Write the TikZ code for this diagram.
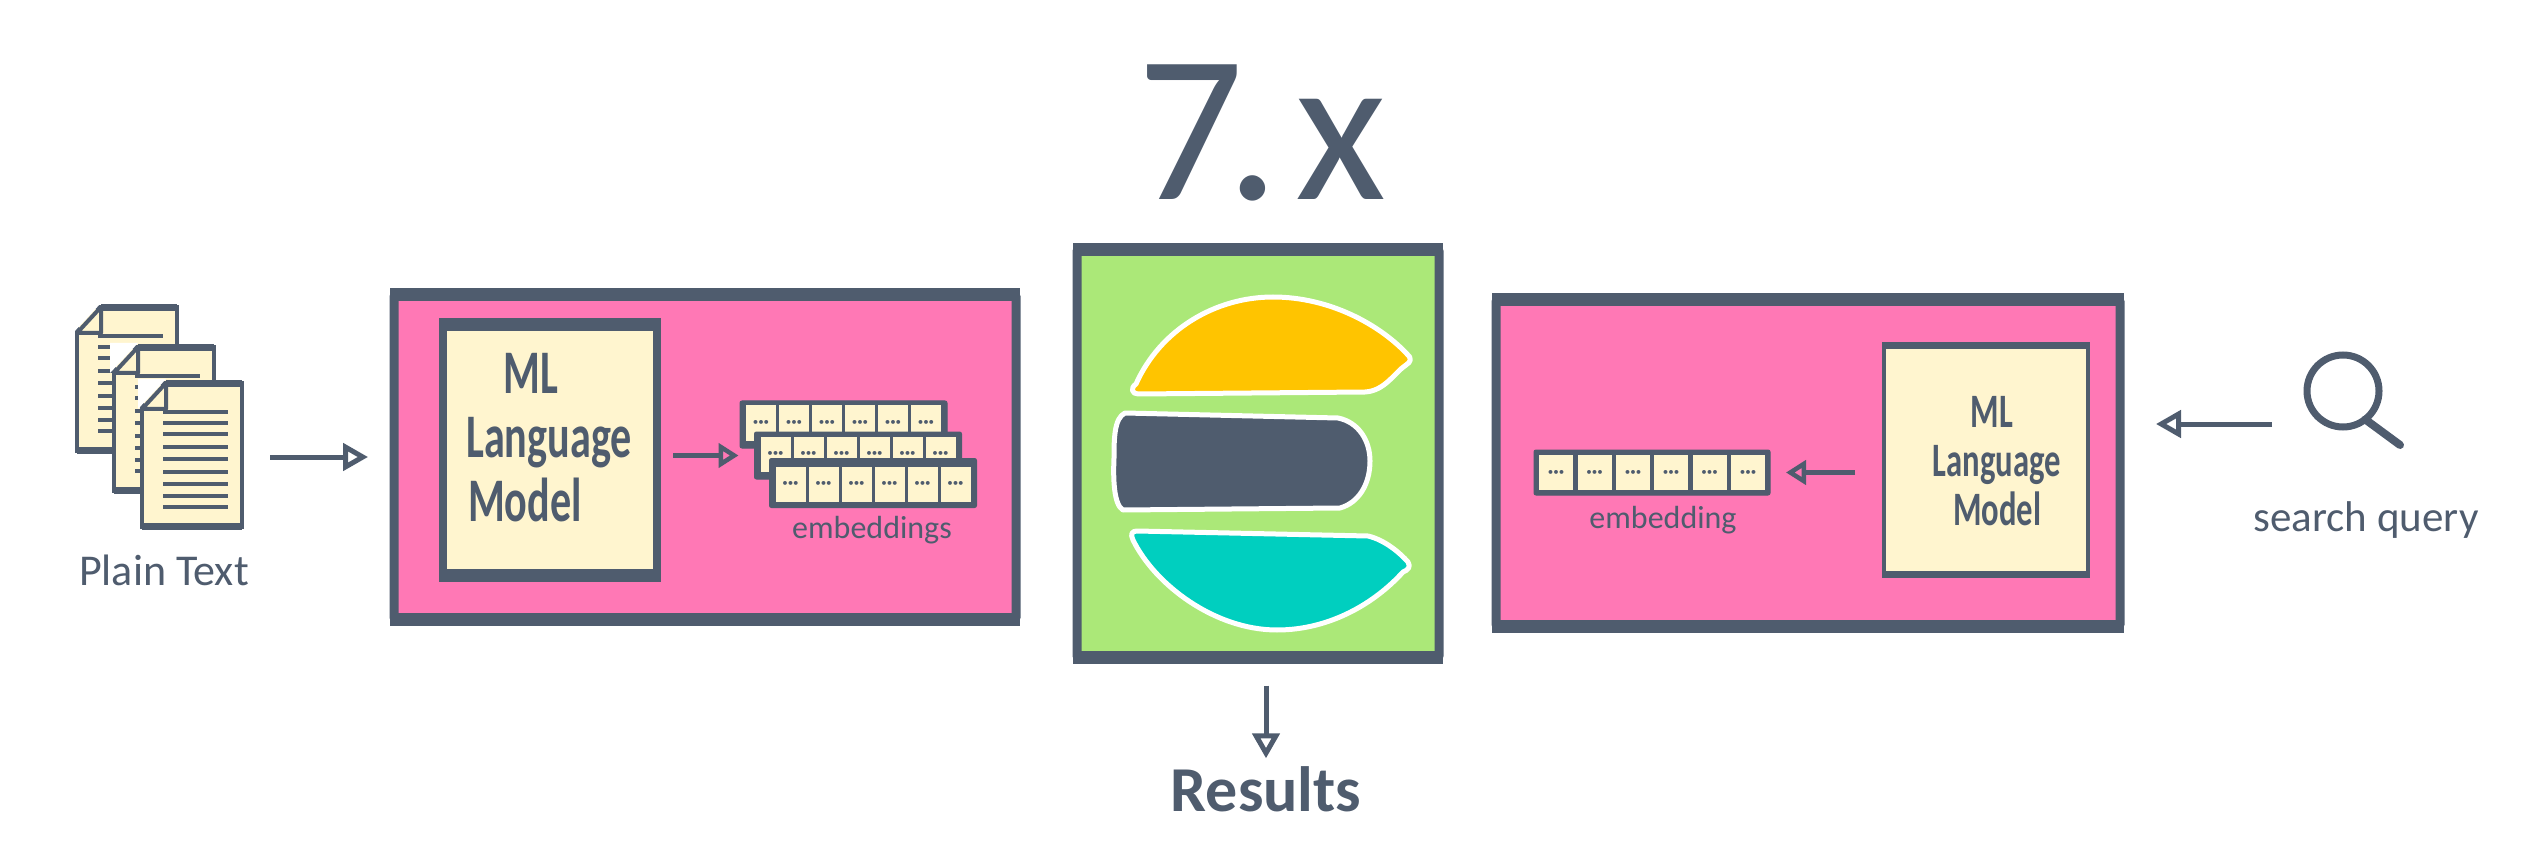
\documentclass[tikz,border=0pt]{standalone}
\usepackage{fontspec}
\usepackage{tikz}
\usetikzlibrary{arrows.meta}
\setmainfont{Carlito}
\newfontfamily\narrowhand[FakeStretch=0.68]{Carlito}
\definecolor{slate}{rgb}{0.31, 0.36, 0.43}
\definecolor{hotpink}{rgb}{1.0, 0.47, 0.71}
\definecolor{paper}{rgb}{1.0, 0.96, 0.81}
\definecolor{leaf}{rgb}{0.67, 0.91, 0.47}
\definecolor{bunyellow}{rgb}{1.0, 0.77, 0.0}
\definecolor{bunteal}{rgb}{0.0, 0.81, 0.75}

\begin{document}
\begin{tikzpicture}[x=1pt,y=-1pt]
  \tikzset{PanelStyle/.style = {
    shape         = rectangle,
    draw          = slate,
    fill          = hotpink,
    line width    = 9pt,
    rounded corners = 2pt,
    inner sep     = 0pt,
    outer sep     = 0pt
    }
  }
  \tikzset{BarStyle/.style = {
    draw          = slate,
    line width    = 13pt,
    shorten <=-4pt,
    shorten >=-4pt
    }
  }
  \tikzset{ModelStyle/.style = {
    shape         = rectangle,
    draw          = slate,
    fill          = paper,
    inner sep     = 0pt,
    outer sep     = 0pt
    }
  }
  \tikzset{RowStyle/.style = {
    shape         = rectangle,
    draw          = slate,
    fill          = slate,
    line width    = 1pt,
    rounded corners = 2pt,
    inner sep     = 0pt,
    outer sep     = 0pt,
    minimum width = 207pt,
    minimum height = 47pt
    }
  }
  \tikzset{CellStyle/.style = {
    shape         = rectangle,
    fill          = paper,
    text          = slate,
    inner sep     = 0pt,
    outer sep     = 0pt,
    minimum width = 30pt,
    minimum height = 35pt,
    font          = \fontsize{11}{11}\selectfont
    }
  }
  \tikzset{LabelStyle/.style = {
    text          = slate,
    inner sep     = 0pt,
    outer sep     = 0pt
    }
  }
  \tikzset{ArrowStyle/.style = {
    draw          = slate,
    line width    = 5pt,
    -{Triangle[open, length=25pt, width=27pt, line width=5pt]}
    }
  }
  \tikzset{SmallArrowStyle/.style = {
    draw          = slate,
    line width    = 4.5pt,
    -{Triangle[open, length=20pt, width=24pt, line width=4.5pt]}
    }
  }
  \tikzset{DocStyle/.style = {
    shape         = rectangle,
    draw          = slate,
    fill          = paper,
    line width    = 4pt,
    inner sep     = 0pt,
    outer sep     = 0pt,
    minimum width = 100pt,
    minimum height = 144pt
    }
  }
  \tikzset{BunStyle/.style = {
    draw          = white,
    line width    = 5pt,
    line join     = round
    }
  }
  \newcommand{\embdots}{\textbullet\textbullet\textbullet}

  \useasboundingbox (0,0) rectangle (2546,858);

  % title
  \node[LabelStyle, anchor=base, font=\fontsize{210}{210}\selectfont](Title) at (1262,200) {7\kern-18pt.\kern 16pt x};

  % plain text stack
  \foreach \doc/\px/\py in {DocA/127/379, DocB/164/419, DocC/192/455} {
    \node[DocStyle](\doc) at (\px,\py) {};
    \fill[white] ([xshift=-4pt, yshift=4pt]\doc.north west) -- ([xshift=24pt, yshift=4pt]\doc.north west) -- ([xshift=-4pt, yshift=-26pt]\doc.north west) -- cycle;
    \fill[paper, draw=slate, line width=4pt, line join=round] ([yshift=-26pt]\doc.north west) -- ([xshift=24pt]\doc.north west) -- ([xshift=24pt, yshift=-26pt]\doc.north west) -- cycle;
    \draw[slate, line width=7pt] ([xshift=24pt, yshift=-1pt]\doc.north west) -- ([yshift=-1pt]\doc.north east);
    \draw[slate, line width=7pt] ([yshift=1pt]\doc.south west) -- ([yshift=1pt]\doc.south east);
    \foreach \ly in {-43,-32,-21,-8,4,17,29,41,52} {
      \draw[slate, line width=3.5pt] ([xshift=-29pt, yshift=-\ly pt]\doc.center) -- ([xshift=36pt, yshift=-\ly pt]\doc.center);
    }
  }
  \node[LabelStyle, font=\fontsize{44}{44}\selectfont](PlainLabel) at (164,570) {Plain Text};

  % left panel
  \node[PanelStyle, minimum width=622pt, minimum height=324pt](LeftBox) at (705,457) {};
  \draw[BarStyle] (LeftBox.north west) -- (LeftBox.north east);
  \draw[BarStyle] (LeftBox.south west) -- (LeftBox.south east);
  \node[ModelStyle, line width=8pt, minimum width=214pt, minimum height=250pt](LeftModel) at (550,450) {};
  \draw[BarStyle] (LeftModel.north west) -- (LeftModel.north east);
  \draw[BarStyle] (LeftModel.south west) -- (LeftModel.south east);
  \node[LabelStyle, align=center, font=\fontsize{62}{64}\narrowhand\bfseries](LeftModelText) at (549,438) {ML\hspace*{36pt}\\Language\\Model\hspace*{48pt}};

  \node[RowStyle](RowA) at (843.5,424.5) {};
  \node[CellStyle](A1) at (761,423) {\embdots};
  \node[CellStyle](A2) at (794,423) {\embdots};
  \node[CellStyle](A3) at (827,423) {\embdots};
  \node[CellStyle](A4) at (860,423) {\embdots};
  \node[CellStyle](A5) at (893,423) {\embdots};
  \node[CellStyle](A6) at (926,423) {\embdots};
  \node[RowStyle](RowB) at (858,455.5) {};
  \node[CellStyle](B1) at (775.5,454) {\embdots};
  \node[CellStyle](B2) at (808.5,454) {\embdots};
  \node[CellStyle](B3) at (841.5,454) {\embdots};
  \node[CellStyle](B4) at (874.5,454) {\embdots};
  \node[CellStyle](B5) at (907.5,454) {\embdots};
  \node[CellStyle](B6) at (940.5,454) {\embdots};
  \node[RowStyle, minimum height=49pt](RowC) at (873,483) {};
  \node[CellStyle](C1) at (790.5,484) {\embdots};
  \node[CellStyle](C2) at (823.5,484) {\embdots};
  \node[CellStyle](C3) at (856.5,484) {\embdots};
  \node[CellStyle](C4) at (889.5,484) {\embdots};
  \node[CellStyle](C5) at (922.5,484) {\embdots};
  \node[CellStyle](C6) at (955.5,484) {\embdots};
  \node[LabelStyle, font=\fontsize{32}{32}\selectfont](EmbLabel) at (872,530) {embeddings};

  % centre panel
  \node[PanelStyle, fill=leaf, minimum width=362pt, minimum height=408pt](MidBox) at (1258,453.5) {};
  \draw[BarStyle] (MidBox.north west) -- (MidBox.north east);
  \draw[BarStyle] (MidBox.south west) -- (MidBox.south east);
  \draw[BunStyle, fill=bunyellow] (1138,394) .. controls (1132,394) and (1130,388) .. (1136,384) .. controls (1160,330) and (1215,297) .. (1273,297) .. controls (1330,297) and (1380,325) .. (1407,354) .. controls (1412,358) and (1411,362) .. (1406,365) .. controls (1395,372) and (1385,391) .. (1365,392) -- cycle;
  \draw[BunStyle, fill=slate] (1125,413) -- (1338,418) .. controls (1358,422) and (1370,440) .. (1370,461) .. controls (1370,485) and (1358,503) .. (1340,508) -- (1123,510) .. controls (1114,505) and (1113,480) .. (1114,458) .. controls (1114,440) and (1114,418) .. (1125,413) -- cycle;
  \draw[BunStyle, fill=bunteal] (1137,531) -- (1368,536) .. controls (1385,540) and (1400,553) .. (1408,562) .. controls (1411,567) and (1408,570) .. (1403,572) .. controls (1375,603) and (1330,630) .. (1277,630) .. controls (1215,630) and (1155,585) .. (1133,540) .. controls (1130,534) and (1132,531) .. (1137,531) -- cycle;
  \node[LabelStyle, font=\fontsize{64}{64}\selectfont\bfseries](ResultLabel) at (1266,789) {Results};

  % right panel
  \node[PanelStyle, minimum width=624pt, minimum height=326pt](RightBox) at (1808,463) {};
  \draw[BarStyle] (RightBox.north west) -- (RightBox.north east);
  \draw[BarStyle] (RightBox.south west) -- (RightBox.south east);
  \node[ModelStyle, line width=4pt, minimum width=204pt, minimum height=228pt](RightModel) at (1986,460) {};
  \draw[slate, line width=7pt, shorten <=-2pt, shorten >=-2pt] (RightModel.north west) -- (RightModel.north east);
  \draw[slate, line width=7pt, shorten <=-2pt, shorten >=-2pt] (RightModel.south west) -- (RightModel.south east);
  \node[LabelStyle, align=center, font=\fontsize{48}{49}\narrowhand\bfseries](RightModelText) at (1997,461) {ML\hspace*{10pt}\\Language\\Model};

  \node[RowStyle, minimum width=236pt, minimum height=45pt](RowQ) at (1652,472.5) {};
  \node[CellStyle, minimum width=34pt](Q1) at (1556,472.5) {\embdots};
  \node[CellStyle, minimum width=34pt](Q2) at (1594.5,472.5) {\embdots};
  \node[CellStyle, minimum width=34pt](Q3) at (1633,472.5) {\embdots};
  \node[CellStyle, minimum width=34pt](Q4) at (1671,472.5) {\embdots};
  \node[CellStyle, minimum width=34pt](Q5) at (1709.5,472.5) {\embdots};
  \node[CellStyle, minimum width=34pt](Q6) at (1748,472.5) {\embdots};
  \node[LabelStyle, font=\fontsize{32}{32}\selectfont](EmbOneLabel) at (1663,520) {embedding};

  % magnifier
  \node[shape=circle, draw=slate, line width=7pt, minimum size=72pt, inner sep=0pt, outer sep=0pt](Lens) at (2343,391) {};
  \coordinate (LensEnd) at (2400,445);
  \draw[slate, line width=8pt, line cap=round] (Lens.-52) -- (LensEnd);
  \node[LabelStyle, font=\fontsize{43}{43}\selectfont](QueryLabel) at (2366,520) {search query};
  \coordinate (QueryStart) at (2272,424);

  % connectors
  \draw[ArrowStyle, shorten <=28pt, shorten >=26pt](DocC.east |- LeftBox.west) to (LeftBox.west);
  \draw[SmallArrowStyle, shorten <=16pt, shorten >=16pt](LeftModel.east |- RowB.west) to (RowB.west);
  \draw[ArrowStyle, shorten <=28pt, shorten >=8pt](ResultLabel.north |- MidBox.south) to (ResultLabel.north);
  \draw[SmallArrowStyle, shorten <=29pt, shorten >=16pt](RightModel.west |- RowQ.east) to (RowQ.east);
  \draw[ArrowStyle, shorten >=36pt](QueryStart) to (RightBox.east |- QueryStart);
\end{tikzpicture}
\end{document}
